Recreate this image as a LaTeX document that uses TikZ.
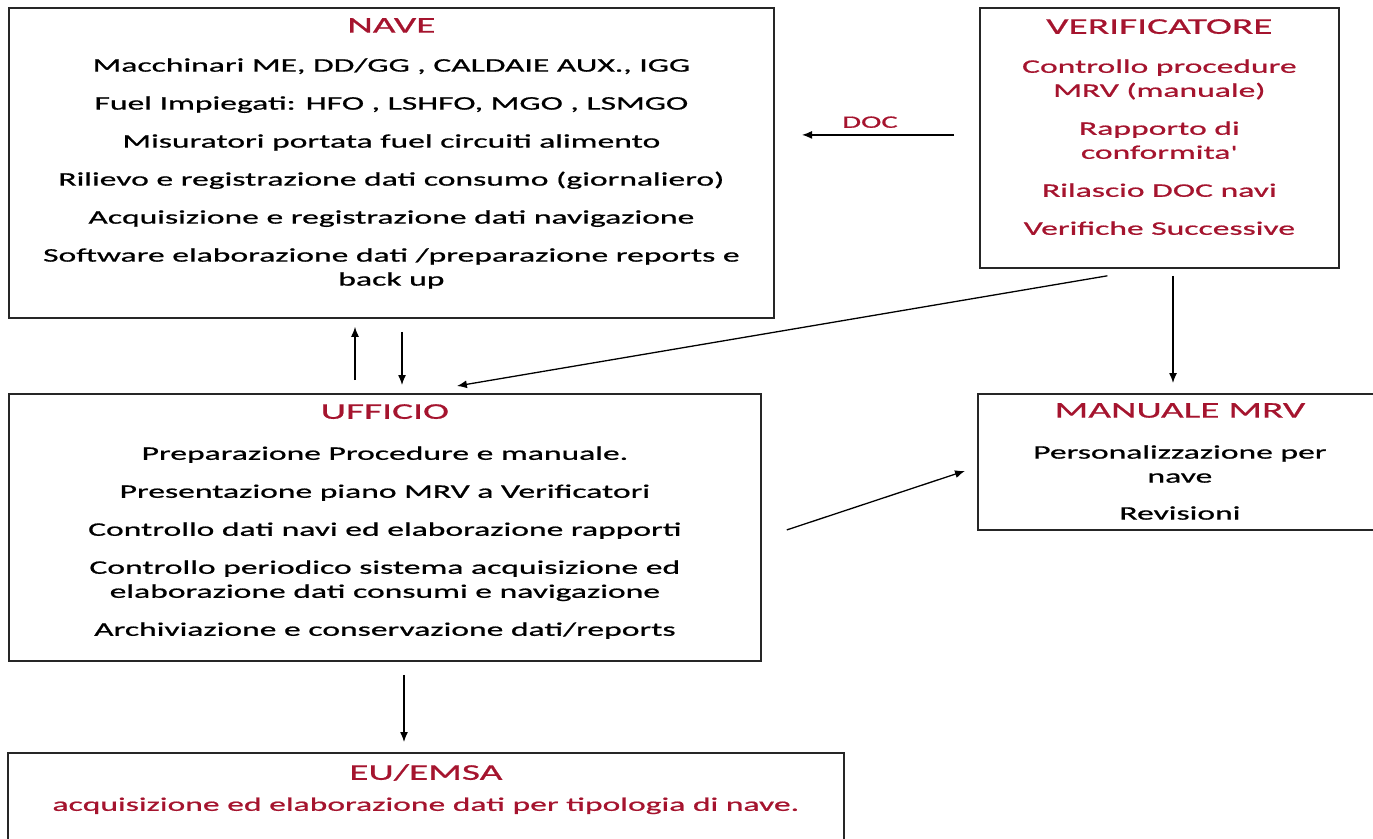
\documentclass[tikz,border=0pt]{standalone}
\usepackage{fontspec}
\setmainfont{Carlito}[FakeStretch=1.75, FakeBold=0.8, Ligatures=TeXOff]
\usetikzlibrary{arrows.meta,positioning}
\definecolor{mrvred}{RGB}{165,20,46}
\tikzset{
  box/.style={draw=black!85, line width=1.8pt, inner sep=0pt, anchor=north west},
  boxtext/.style={align=center, inner sep=0pt, anchor=north,
    font=\fontsize{19.2}{24}\selectfont},
  redtext/.style={boxtext, text=mrvred},
  arr/.style={-{Latex[length=10pt,width=8pt]}, line width=1.3pt},
}
\newcommand{\ttl}[1]{{\color{mrvred}\fontsize{22.5}{24}\selectfont #1}}
\begin{document}
\begin{tikzpicture}[x=1pt,y=-1pt]
  \useasboundingbox (0,0) rectangle (1373,838);
  \clip (0,0) rectangle (1373,838);
  % boxes
  \node[box, minimum width=765pt, minimum height=310pt] (nave) at (8,7) {};
  \node[box, minimum width=359pt, minimum height=260pt] (verif) at (979,7) {};
  \node[box, minimum width=752pt, minimum height=267pt] (ufficio) at (8,393) {};
  \node[box, minimum width=420pt, minimum height=136pt] (manuale) at (977,393) {};
  \node[box, minimum width=836pt, minimum height=120pt] (eu) at (7,752) {};
  % texts
  \node[boxtext, below=11pt of nave.north] (navetxt) {\ttl{NAVE}\\[15pt]
    Macchinari ME, DD/GG , CALDAIE AUX., IGG\\[14pt]
    Fuel Impiegati: HFO , LSHFO, MGO , LSMGO\\[14pt]
    Misuratori portata fuel circuiti alimento\\[14pt]
    Rilievo e registrazione dati consumo (giornaliero)\\[14pt]
    Acquisizione e registrazione dati navigazione\\[14pt]
    Software elaborazione dati /preparazione reports e\\
    back up};
  \node[redtext, below=12pt of verif.north] (veriftxt) {\ttl{VERIFICATORE}\\[15pt]
    Controllo procedure\\ MRV (manuale)\\[14pt]
    Rapporto di\\ conformita'\\[14pt]
    Rilascio DOC navi\\[14pt]
    Verifiche Successive};
  \node[boxtext, below=11pt of ufficio.north] (ufficiotxt) {\ttl{UFFICIO}\\[17pt]
    Preparazione Procedure e manuale.\\[14pt]
    Presentazione piano MRV a Verificatori\\[14pt]
    Controllo dati navi ed elaborazione rapporti\\[14pt]
    Controllo periodico sistema acquisizione ed\\
    elaborazione dati consumi e navigazione\\[14pt]
    Archiviazione e conservazione dati/reports};
  \node[boxtext, below=10pt of manuale.north, xshift=-8pt] (manualetxt) {\ttl{MANUALE MRV}\\[17pt]
    Personalizzazione per\\ nave\\[13pt]
    Revisioni};
  \node[redtext, below=12pt of eu.north] (eutxt) {\ttl{EU/EMSA}\\[7pt]
    acquisizione ed elaborazione dati per tipologia di nave.};
  % connectors
  \coordinate (upx) at (355,0);
  \coordinate (downx) at (402,0);
  \coordinate (vx) at (1173,0);
  \coordinate (eux) at (404,0);
  \draw[arr] (verif.west) ++(-25,-3) -- ++(-152,0)
    node[midway, above=3pt, xshift=-8pt, text=mrvred, font=\fontsize{17.5}{18}\selectfont] (doc) {DOC};
  \draw[arr, shorten <=13pt, shorten >=8pt] (ufficio.north -| upx) -- (nave.south -| upx);
  \draw[arr, shorten <=13pt, shorten >=8pt] (nave.south -| downx) -- (ufficio.north -| downx);
  \draw[arr] ([xshift=-52pt,yshift=-7pt]verif.south) -- ([xshift=72pt,yshift=7pt]ufficio.north);
  \draw[arr, shorten <=7pt, shorten >=10pt] (verif.south -| vx) -- (manuale.north -| vx);
  \draw[arr] ([xshift=25pt,yshift=-2.5pt]ufficio.east) -- ([xshift=-12pt,yshift=-9pt]manuale.west);
  \draw[arr, shorten <=13pt, shorten >=10pt] (ufficio.south -| eux) -- (eu.north -| eux);
\end{tikzpicture}
\end{document}
